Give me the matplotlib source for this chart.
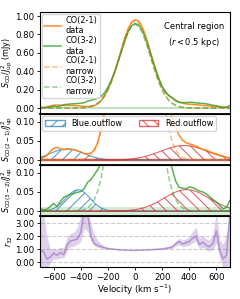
import numpy as np
import matplotlib
matplotlib.use("Agg")
import matplotlib.pyplot as plt
from matplotlib.patches import Patch
from matplotlib.ticker import FormatStrFormatter

# velocity channels (km/s)
vel = [-700, -675, -650, -625, -600, -575, -550, -525, -500, -475, -450, -425,
       -400, -375, -350, -325, -300, -275, -250, -225, -200, -175, -150, -125,
       -100, -75, -50, -25, 0, 25, 50, 75, 100, 125, 150, 175, 200, 225, 250,
       275, 300, 325, 350, 375, 400, 425, 450, 475, 500, 525, 550, 575, 600,
       625, 650, 675, 700]

# S_CO / J_up^2 spectra (mJy)
co21_data = [0.003, 0.006, 0.012, 0.022, 0.030, 0.033, 0.029, 0.027, 0.029, 0.028,
             0.027, 0.024, 0.021, 0.017, 0.016, 0.018, 0.026, 0.045, 0.080, 0.130,
             0.200, 0.290, 0.395, 0.515, 0.640, 0.765, 0.865, 0.935, 0.960, 0.950,
             0.890, 0.800, 0.680, 0.555, 0.430, 0.320, 0.230, 0.170, 0.135, 0.110,
             0.085, 0.065, 0.052, 0.045, 0.042, 0.040, 0.036, 0.032, 0.028, 0.026,
             0.022, 0.018, 0.016, 0.012, 0.010, 0.007, 0.005]
co32_data = [0.006, 0.004, 0.005, 0.012, 0.020, 0.012, 0.025, 0.036, 0.040, 0.044,
             0.046, 0.049, 0.051, 0.058, 0.075, 0.082, 0.095, 0.108, 0.125, 0.165,
             0.225, 0.300, 0.395, 0.500, 0.615, 0.730, 0.830, 0.895, 0.920, 0.905,
             0.855, 0.770, 0.660, 0.540, 0.425, 0.320, 0.235, 0.175, 0.135, 0.110,
             0.078, 0.062, 0.060, 0.058, 0.063, 0.061, 0.057, 0.052, 0.050, 0.045,
             0.038, 0.030, 0.024, 0.015, 0.006, 0.010, 0.028]
co21_narrow = [0, 0, 0, 0, 0, 0, 0, 0, 0, 0, 0.0003, 0.0007, 0.0016, 0.0035, 0.0072,
               0.0141, 0.0263, 0.0466, 0.0787, 0.126, 0.193, 0.280, 0.388, 0.510,
               0.638, 0.759, 0.860, 0.927, 0.950, 0.927, 0.860, 0.759, 0.638, 0.510,
               0.388, 0.280, 0.193, 0.126, 0.0787, 0.0466, 0.0263, 0.0141, 0.0072,
               0.0035, 0.0016, 0.0007, 0.0003, 0, 0, 0, 0, 0, 0, 0, 0, 0, 0]
co32_narrow = [0, 0, 0, 0, 0, 0, 0, 0, 0.0001, 0.0002, 0.0005, 0.0010, 0.0021, 0.0045,
               0.0089, 0.0168, 0.0303, 0.0522, 0.0857, 0.134, 0.201, 0.286, 0.389,
               0.504, 0.624, 0.736, 0.828, 0.889, 0.910, 0.889, 0.828, 0.736, 0.624,
               0.504, 0.389, 0.286, 0.201, 0.134, 0.0857, 0.0522, 0.0303, 0.0168,
               0.0089, 0.0045, 0.0021, 0.0010, 0.0005, 0.0002, 0.0001, 0, 0, 0, 0, 0,
               0, 0, 0]
co21_blue = [0.0072, 0.0100, 0.0133, 0.0169, 0.0205, 0.0239, 0.0266, 0.0284, 0.0290,
             0.0284, 0.0266, 0.0239, 0.0205, 0.0169, 0.0133, 0.0100, 0.0072, 0.0050,
             0.0033, 0.0021, 0.0013, 0.0007, 0.0004, 0.0002, 0.0001] + [0] * 32
co21_red = [0] * 20 + [0.0002, 0.0003, 0.0004, 0.0006, 0.0010, 0.0014, 0.0021, 0.0029,
                       0.0040, 0.0055, 0.0072, 0.0093, 0.0118, 0.0146, 0.0177, 0.0210,
                       0.0244, 0.0277, 0.0308, 0.0335, 0.0357, 0.0372, 0.0379, 0.0379,
                       0.0370, 0.0353, 0.0330, 0.0302, 0.0271, 0.0237, 0.0203, 0.0171,
                       0.0140, 0.0113, 0.0089, 0.0068, 0.0051]
co32_blue = [0.0004, 0.0008, 0.0018, 0.0037, 0.0069, 0.0119, 0.0188, 0.0275, 0.0370,
             0.0461, 0.0528, 0.0559, 0.0546, 0.0491, 0.0408, 0.0313, 0.0221, 0.0144,
             0.0087, 0.0048, 0.0025, 0.0012, 0.0005, 0.0002, 0.0001] + [0] * 32
co32_red = [0] * 22 + [0.0003, 0.0005, 0.0008, 0.0012, 0.0019, 0.0028, 0.0039, 0.0055,
                       0.0076, 0.0101, 0.0133, 0.0170, 0.0212, 0.0259, 0.0309, 0.0360,
                       0.0411, 0.0457, 0.0498, 0.0530, 0.0551, 0.0560, 0.0556, 0.0540,
                       0.0512, 0.0474, 0.0430, 0.0381, 0.0329, 0.0279, 0.0230, 0.0186,
                       0.0147, 0.0113, 0.0085]
rms21 = 0.005
rms32 = 0.011

# line ratio r32 and its uncertainty band
r32 = [0.85, 0.85, 0.25, 0.40, 0.70, 0.55, 0.75, 0.60, 1.35, 1.65, 1.70, 1.80, 2.30,
       3.80, 3.80, 2.00, 1.45, 1.30, 1.20, 1.12, 1.07, 1.04, 1.01, 0.98, 0.96, 0.94,
       0.93, 0.92, 0.92, 0.93, 0.94, 0.95, 0.96, 0.98, 1.00, 1.02, 1.04, 1.08, 1.12,
       1.20, 1.42, 1.60, 1.40, 1.50, 1.60, 1.85, 2.00, 1.35, 1.55, 1.30, 1.20, 1.45,
       2.40, 0.90, 0.25, 0.55, 3.80]
r32_lo = [-0.5, -0.5, -0.5, -0.10, 0.30, 0.25, 0.35, 0.35, 0.90, 1.20, 1.25, 1.40,
          1.60, 2.60, 2.40, 1.60, 1.25, 1.15, 1.10, 1.04, 1.01, 0.99, 0.97, 0.95,
          0.94, 0.92, 0.91, 0.90, 0.90, 0.91, 0.92, 0.93, 0.94, 0.95, 0.97, 0.98,
          0.99, 1.02, 1.04, 1.08, 1.25, 1.35, 1.20, 1.25, 1.30, 1.50, 1.60, 1.05,
          1.15, 0.95, 0.85, 1.00, 1.50, 0.30, -0.5, -0.5, -0.5]
r32_hi = [4.0, 4.0, 2.00, 1.05, 1.05, 1.00, 1.15, 1.10, 2.00, 2.20, 2.30, 2.70, 3.60,
          4.0, 4.0, 3.00, 2.10, 1.70, 1.45, 1.25, 1.15, 1.09, 1.05, 1.01, 0.98, 0.96,
          0.95, 0.94, 0.94, 0.95, 0.96, 0.97, 0.98, 1.01, 1.03, 1.06, 1.09, 1.15,
          1.22, 1.35, 1.65, 1.85, 1.70, 1.80, 1.95, 2.40, 2.70, 1.85, 2.05, 1.80,
          1.70, 2.20, 3.80, 1.70, 1.40, 2.20, 4.0]

plt.rcParams['font.size'] = 6.2
plt.rcParams['hatch.linewidth'] = 0.8

C21 = '#ff7f0e'
C32 = '#2ca02c'
CB = '#1f77b4'
CR = '#d62728'
CP = '#9467bd'
YL = 5.8  # y label size

fig, axes = plt.subplots(4, 1, figsize=(2.4, 2.99), dpi=100, sharex=True,
                         gridspec_kw=dict(height_ratios=[2, 1, 1, 1], hspace=0))
fig.subplots_adjust(left=0.167, right=0.958, top=0.96, bottom=0.107)
ax1, ax2, ax3, ax4 = axes

# top panel: full spectra
ax1.fill_between(vel, -rms21, rms21, color=C21, alpha=0.3, lw=0)
ax1.fill_between(vel, -rms32, rms32, color=C32, alpha=0.3, lw=0)
ax1.plot(vel, co21_data, color=C21, lw=1.1, alpha=0.9, label='CO(2-1)\ndata')
ax1.plot(vel, co32_data, color=C32, lw=1.1, alpha=0.8, label='CO(3-2)\ndata')
ax1.plot(vel, co21_narrow, color=C21, lw=1.1, ls='--', alpha=0.5, label='CO(2-1)\nnarrow')
ax1.plot(vel, co32_narrow, color=C32, lw=1.1, ls='--', alpha=0.5, label='CO(3-2)\nnarrow')
ax1.set_ylim(-0.065, 1.045)
ax1.set_yticks([0, 0.2, 0.4, 0.6, 0.8, 1.0])
ax1.set_ylabel(r'$S_{\rm CO}/J_{\rm up}^2$ (mJy)', labelpad=0.5, fontsize=YL)
ax1.legend(loc='upper left', fontsize=5.9, handlelength=2.0, labelspacing=0.08,
           borderpad=0.3, handletextpad=0.6, borderaxespad=0.2)
ax1.text(0.81, 0.90, 'Central region\n($r < 0.5$ kpc)', transform=ax1.transAxes,
         ha='center', va='top', fontsize=6.0, linespacing=1.5)

# CO(2-1) zoom with outflow components
ax2.fill_between(vel, -rms21, rms21, color=C21, alpha=0.25, lw=0)
ax2.fill_between(vel, 0, co21_blue, facecolor='none', edgecolor=CB, hatch='///',
                 alpha=0.7, lw=0.8)
ax2.fill_between(vel, 0, co21_red, facecolor='none', edgecolor=CR, hatch='\\\\\\',
                 alpha=0.7, lw=0.8)
ax2.plot(vel, co21_narrow, color=C21, lw=1.1, ls='--', alpha=0.5)
ax2.plot(vel, co21_data, color=C21, lw=1.1, alpha=0.9)
ax2.set_ylim(-0.013, 0.12)
ax2.set_yticks([0, 0.05, 0.10])
ax2.set_ylabel(r'$S_{\rm CO(2-1)}/J_{\rm up}^2$', labelpad=0.5, fontsize=YL)
handles = [Patch(facecolor='none', edgecolor=CB, hatch='///', alpha=0.7, label='Blue.outflow'),
           Patch(facecolor='none', edgecolor=CR, hatch='\\\\\\', alpha=0.7, label='Red.outflow')]
ax2.legend(handles=handles, loc='upper left', ncol=2, fontsize=5.9, handlelength=2.4,
           columnspacing=2.0, borderpad=0.35, borderaxespad=0.25)

# CO(3-2) zoom with outflow components
ax3.fill_between(vel, -rms32, rms32, color=C32, alpha=0.2, lw=0)
ax3.fill_between(vel, 0, co32_blue, facecolor='none', edgecolor=CB, hatch='///',
                 alpha=0.7, lw=0.8)
ax3.fill_between(vel, 0, co32_red, facecolor='none', edgecolor=CR, hatch='\\\\\\',
                 alpha=0.7, lw=0.8)
ax3.plot(vel, co32_narrow, color=C32, lw=1.1, ls='--', alpha=0.5)
ax3.plot(vel, co32_data, color=C32, lw=1.1, alpha=0.8)
ax3.set_ylim(-0.0125, 0.12)
ax3.set_yticks([0, 0.05, 0.10])
ax3.set_ylabel(r'$S_{\rm CO(3-2)}/J_{\rm up}^2$', labelpad=0.5, fontsize=YL)

# line ratio
ax4.fill_between(vel, r32_lo, r32_hi, color=CP, alpha=0.3, lw=0)
ax4.plot(vel, r32, color=CP, lw=1.1, alpha=0.6)
for yv in [0, 1, 2, 3]:
    ax4.axhline(yv, color='0.8', ls='--', lw=0.8, zorder=0)
ax4.set_ylim(-0.35, 3.55)
ax4.set_yticks([0, 1, 2, 3])
ax4.set_ylabel(r'$r_{32}$', labelpad=0.5, fontsize=YL)
ax4.set_xlim(-700, 700)
ax4.set_xticks([-600, -400, -200, 0, 200, 400, 600])
ax4.set_xlabel(r'Velocity (km s$^{-1}$)', labelpad=1)

for ax in axes:
    ax.yaxis.set_major_formatter(FormatStrFormatter('%.2f'))
    ax.tick_params(length=2.5, width=0.6, pad=1.5)
    for s in ax.spines.values():
        s.set_linewidth(0.8)
for ax in axes[:3]:
    ax.spines['bottom'].set_linewidth(1.3)
fig.align_ylabels(axes)

fig.savefig('out.png', dpi=100)
